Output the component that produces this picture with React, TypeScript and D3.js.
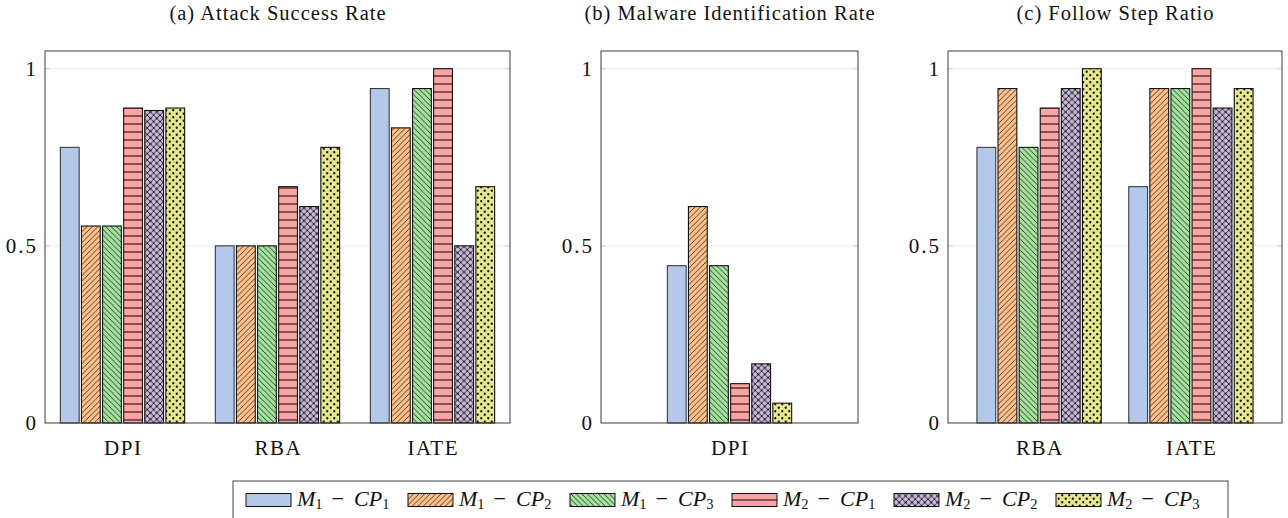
import React from "react";
import * as d3 from "d3";

// ---------- data ----------
const seriesModel = [1, 1, 1, 2, 2, 2];
const seriesCP = [1, 2, 3, 1, 2, 3];
const seriesColors = ["#b4c8ea", "#ffc08a", "#a3e29c", "#ffa3a3", "#c8b6da", "#e6e68e"];
const seriesPatterns = ["none", "nelines", "nwlines", "hlines", "crosshatch", "dots"];

const yTicks = [0, 0.5, 1];
const yTickLabels = ["0", "0.5", "1"];

const asrTitle = "(a) Attack Success Rate";
const asrCategories = ["DPI", "RBA", "IATE"];
const asrSeries = [
  [0.778, 0.5, 0.944],
  [0.556, 0.5, 0.833],
  [0.556, 0.5, 0.944],
  [0.889, 0.667, 1.0],
  [0.882, 0.611, 0.5],
  [0.889, 0.778, 0.667],
];

const mirTitle = "(b) Malware Identification Rate";
const mirCategories = ["DPI"];
const mirSeries = [[0.444], [0.611], [0.444], [0.111], [0.167], [0.056]];

const fsrTitle = "(c) Follow Step Ratio";
const fsrCategories = ["RBA", "IATE"];
const fsrSeries = [
  [0.778, 0.667],
  [0.944, 0.944],
  [0.778, 0.944],
  [0.889, 1.0],
  [0.944, 0.889],
  [1.0, 0.944],
];

// ---------- layout ----------
const W = 1288;
const H = 518;
const TOP = 51;
const BOTTOM = 423;
const BAR_PITCH = 21.1;
const BAR_W = 18.8;
const FONT = "'Liberation Serif', 'Times New Roman', serif";

const yScale = d3.scaleLinear().domain([0, 1.05]).range([BOTTOM, TOP]);

type PanelProps = {
  title: string;
  categories: string[];
  series: number[][];
  x0: number;
  x1: number;
  pad: number;
};

function Panel({ title, categories, series, x0, x1, pad }: PanelProps) {
  const n = categories.length;
  const xScale = d3
    .scaleLinear()
    .domain([-pad, n - 1 + pad])
    .range([x0, x1]);
  const nS = series.length;
  return (
    <g>
      <text
        x={(x0 + x1) / 2 + 0.5}
        y={20}
        textAnchor="middle"
        fontFamily={FONT}
        fontSize={20.5}
        letterSpacing={1}
        fill="#111"
      >
        {title}
      </text>
      {/* grid */}
      {yTicks
        .filter((t) => t > 0)
        .map((t) => (
          <g key={"g" + t}>
            <line x1={x0} x2={x1} y1={yScale(t)} y2={yScale(t)} stroke="#ededed" strokeWidth={1} />
            <line x1={x0} x2={x0 + 5} y1={yScale(t)} y2={yScale(t)} stroke="#d0d0d0" strokeWidth={1} />
            <line x1={x1 - 5} x2={x1} y1={yScale(t)} y2={yScale(t)} stroke="#d0d0d0" strokeWidth={1} />
          </g>
        ))}
      {yTicks.map((t, i) => (
        <text
          key={"yl" + t}
          x={x0 - 7}
          y={yScale(t)}
          dy="0.34em"
          textAnchor="end"
          fontFamily={FONT}
          fontSize={21}
          letterSpacing={2}
          fill="#111"
        >
          {yTickLabels[i]}
        </text>
      ))}
      {/* bars */}
      {categories.map((c, ci) =>
        series.map((vals, si) => {
          const cx = xScale(ci) + (si - (nS - 1) / 2) * BAR_PITCH;
          const y = yScale(vals[ci]);
          const h = yScale(0) - y;
          const pat = seriesPatterns[si];
          return (
            <g key={c + si}>
              <rect x={cx - BAR_W / 2} y={y} width={BAR_W} height={h} fill={seriesColors[si]} />
              {pat !== "none" && (
                <rect x={cx - BAR_W / 2} y={y} width={BAR_W} height={h} fill={`url(#${pat})`} />
              )}
              <rect
                x={cx - BAR_W / 2}
                y={y}
                width={BAR_W}
                height={h}
                fill="none"
                stroke={si === 0 ? "#3a3a3a" : "#111"}
                strokeWidth={1.1}
              />
            </g>
          );
        })
      )}
      {/* frame */}
      <rect x={x0} y={TOP} width={x1 - x0} height={BOTTOM - TOP} fill="none" stroke="#3c3c3c" strokeWidth={1} />
      {categories.map((c, ci) => (
        <text
          key={"xl" + c}
          x={xScale(ci) + 0.75}
          y={455}
          textAnchor="middle"
          fontFamily={FONT}
          fontSize={21}
          letterSpacing={1.5}
          fill="#111"
        >
          {c}
        </text>
      ))}
    </g>
  );
}

function Patterns() {
  return (
    <defs>
      <pattern id="nelines" patternUnits="userSpaceOnUse" width={5.5} height={5.5}>
        <path d="M-1,6.5 L6.5,-1 M-1,1 L1,-1 M4.5,6.5 L6.5,4.5" stroke="#111" strokeWidth={0.75} />
      </pattern>
      <pattern id="nwlines" patternUnits="userSpaceOnUse" width={5.5} height={5.5}>
        <path d="M-1,-1 L6.5,6.5 M-1,4.5 L1,6.5 M4.5,-1 L6.5,1" stroke="#111" strokeWidth={0.75} />
      </pattern>
      <pattern id="hlines" patternUnits="userSpaceOnUse" width={8} height={8}>
        <path d="M0,4 L8,4" stroke="#111" strokeWidth={1.1} />
      </pattern>
      <pattern id="crosshatch" patternUnits="userSpaceOnUse" width={6.4} height={6.4}>
        <path d="M-1,-1 L7.4,7.4 M-1,7.4 L7.4,-1" stroke="#222" strokeWidth={0.9} />
        <circle cx={3.2} cy={3.2} r={1} fill="#111" />
        <circle cx={0} cy={0} r={1} fill="#111" />
        <circle cx={6.4} cy={0} r={1} fill="#111" />
        <circle cx={0} cy={6.4} r={1} fill="#111" />
        <circle cx={6.4} cy={6.4} r={1} fill="#111" />
      </pattern>
      <pattern id="dots" patternUnits="userSpaceOnUse" width={7} height={7}>
        <circle cx={1.75} cy={1.75} r={1.15} fill="#111" />
        <circle cx={5.25} cy={5.25} r={1.15} fill="#111" />
      </pattern>
    </defs>
  );
}

function Legend() {
  const x0 = 233;
  const y0 = 481;
  const step = 162;
  const swX = 246;
  return (
    <g>
      <rect x={x0} y={y0} width={1228 - x0} height={60} fill="#fff" stroke="#444" strokeWidth={1} />
      {seriesModel.map((m, i) => {
        const sx = swX + i * step;
        const pat = seriesPatterns[i];
        return (
          <g key={"lg" + i}>
            <rect x={sx} y={493.5} width={45} height={13} fill={seriesColors[i]} />
            {pat !== "none" && <rect x={sx} y={493.5} width={45} height={13} fill={`url(#${pat})`} />}
            <rect x={sx} y={493.5} width={45} height={13} fill="none" stroke="#111" strokeWidth={1} />
            <text x={sx + 51} y={506} fontFamily={FONT} fontSize={22} fill="#111">
              <tspan fontStyle="italic">M</tspan>
              <tspan fontSize={14.5} dy={3}>{m}</tspan>
              <tspan dy={-3} dx={9}>{"\u2212"}</tspan>
              <tspan fontStyle="italic" dx={10}>CP</tspan>
              <tspan fontSize={14.5} dy={3}>{seriesCP[i]}</tspan>
            </text>
          </g>
        );
      })}
    </g>
  );
}

export default function App() {
  return (
    <svg
      width={W}
      height={H}
      viewBox={`0 0 ${W} ${H}`}
      style={{ position: "absolute", left: 0, top: 0, background: "#fff" }}
    >
      <Patterns />
      <rect x={0} y={0} width={W} height={H} fill="#fff" />
      <Panel title={asrTitle} categories={asrCategories} series={asrSeries} x0={45} x1={510} pad={0.5} />
      <Panel title={mirTitle} categories={mirCategories} series={mirSeries} x0={601} x1={858} pad={0.5} />
      <Panel title={fsrTitle} categories={fsrCategories} series={fsrSeries} x0={948} x1={1282} pad={0.6} />
      <Legend />
    </svg>
  );
}
